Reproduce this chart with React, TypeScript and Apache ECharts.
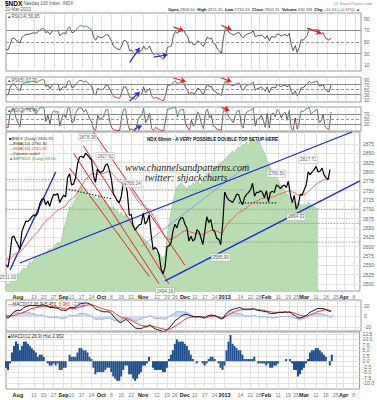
import React, { useEffect, useRef } from "react";
import * as echarts from "echarts";

// ---- x axis (trading-day index, 0 = 24-Jul-2012) ----
const xTicks: [number, string, boolean][] = [
  [6, "Aug", true], [14, "13", false], [19, "20", false], [24, "27", false],
  [29, "Sep", true], [33, "10", false], [38, "17", false], [43, "24", false],
  [48, "Oct", true], [53, "8", false], [58, "15", false], [63, "22", false],
  [69, "Nov", true], [76, "12", false], [81, "19", false], [85, "26", false],
  [90, "Dec", true], [95, "10", false], [100, "17", false], [105, "24", false],
  [110, "2013", true], [118, "14", false], [123, "22", false], [127, "28", false],
  [131, "Feb", true], [137, "11", false], [142, "19", false], [146, "25", false],
  [150, "Mar", true], [156, "11", false], [161, "18", false], [166, "25", false],
  [170, "Apr", true], [175, "8", false],
];

// ---- price ----
const closes = [
  2551, 2545, 2578, 2625, 2628, 2615, 2605, 2592, 2640, 2655, 2668, 2667, 2673, 2680,
  2685, 2682, 2690, 2715, 2727, 2730, 2712, 2722, 2708, 2727, 2740, 2738, 2742, 2718, 2729,
  2738, 2733, 2785, 2795, 2765, 2768, 2785, 2822, 2840, 2842, 2838, 2850, 2845, 2838, 2832,
  2790, 2772, 2808, 2799, 2800, 2803, 2818, 2822, 2805, 2780, 2742, 2733, 2722, 2718, 2735,
  2768, 2770, 2746, 2684, 2686, 2655, 2644, 2652, 2658, 2660, 2690, 2660, 2668, 2685, 2632,
  2592, 2598, 2592, 2578, 2540, 2527, 2545, 2600, 2602, 2610, 2642, 2660, 2650, 2668, 2677,
  2677, 2660, 2650, 2615, 2628, 2615, 2620, 2645, 2640, 2625, 2605, 2640, 2680, 2665, 2672,
  2645, 2640, 2622, 2620, 2605, 2660, 2746, 2733, 2725, 2722, 2718, 2728, 2740, 2740, 2722,
  2712, 2732, 2740, 2745, 2752, 2770, 2735, 2745, 2745, 2750, 2745, 2731, 2750, 2720, 2745,
  2748, 2745, 2765, 2762, 2755, 2762, 2765, 2758, 2775, 2740, 2718, 2737, 2700, 2712, 2740,
  2738, 2752, 2765, 2800, 2793, 2800, 2806, 2815, 2800, 2802, 2810, 2792, 2784, 2780, 2806,
];
const ema = [
  2568, 2566, 2567, 2573, 2578, 2582, 2584, 2585, 2590, 2597, 2604, 2610, 2616, 2623, 2629,
  2634, 2640, 2647, 2655, 2663, 2668, 2673, 2677, 2682, 2688, 2693, 2698, 2700, 2703, 2706,
  2709, 2717, 2724, 2728, 2732, 2738, 2746, 2755, 2764, 2771, 2779, 2786, 2791, 2795, 2795,
  2793, 2794, 2795, 2795, 2796, 2798, 2801, 2801, 2799, 2793, 2787, 2781, 2775, 2771, 2770,
  2770, 2768, 2759, 2752, 2742, 2733, 2725, 2718, 2712, 2710, 2705, 2701, 2700, 2693, 2683,
  2674, 2666, 2657, 2646, 2634, 2625, 2622, 2620, 2619, 2621, 2625, 2628, 2632, 2636, 2640,
  2642, 2643, 2640, 2639, 2637, 2635, 2636, 2636, 2635, 2632, 2633, 2638, 2640, 2643, 2644,
  2643, 2641, 2639, 2636, 2638, 2649, 2657, 2664, 2670, 2675, 2680, 2686, 2691, 2694, 2696,
  2700, 2704, 2708, 2712, 2718, 2720, 2722, 2724, 2727, 2729, 2729, 2731, 2730, 2732, 2733,
  2734, 2737, 2740, 2741, 2743, 2745, 2747, 2749, 2749, 2746, 2745, 2740, 2738, 2738, 2738,
  2739, 2742, 2748, 2752, 2757, 2762, 2767, 2771, 2774, 2777, 2779, 2779, 2779, 2782,
];
// green area overlay (own hidden scale)
const bpndx = [
  33, 33, 34, 35, 35, 37, 38, 38, 40, 41, 40, 42, 44, 43, 45, 46, 45, 47, 46, 48, 47,
  49, 50, 49, 51, 52, 53, 52, 54, 59, 62, 66, 70, 69, 72, 73, 76, 78, 79, 78, 77, 74,
  75, 73, 75, 74, 73, 75, 74, 72, 73, 71, 70, 69, 70, 68, 68, 66, 67, 65, 66, 64, 63,
  63, 61, 60, 58, 57, 56, 55, 54, 53, 52, 51, 50, 49, 48, 48, 46, 45, 47, 55, 62, 67,
  72, 76, 79, 80, 81, 80, 79, 78, 80, 79, 81, 80, 82, 81, 80, 82, 83, 85, 86, 85, 87,
  88, 89, 90, 90, 91, 92, 93, 94, 95, 96, 95, 97, 98, 97, 99, 99, 100, 99, 101, 102,
  101, 100, 102, 99, 97, 95, 92, 90, 88, 86, 85, 84, 82, 80, 79, 78, 76, 75, 74, 73,
  72, 71, 72, 71, 70, 71, 70, 72, 71, 70, 70, 69, 69,
];

// ---- oscillators ----
const rsi14 = [
  38, 36, 45, 56, 57, 53, 51, 48, 58, 61, 63, 63, 64, 65, 66, 65, 67, 71, 73, 73, 66,
  68, 63, 68, 70, 69, 70, 61, 64, 66, 64, 74, 76, 66, 67, 70, 75, 78, 78, 76, 78, 76,
  73, 71, 58, 53, 60, 58, 58, 59, 62, 63, 58, 51, 42, 40, 38, 37, 43, 52, 53, 47, 35,
  36, 31, 29, 32, 34, 35, 43, 37, 39, 43, 34, 28, 30, 29, 27, 22, 20, 27, 41, 42, 44,
  62, 68, 65, 70, 72, 71, 64, 60, 48, 50, 45, 46, 52, 50, 46, 42, 51, 59, 55, 57, 48,
  46, 38, 35, 30, 56, 76, 70, 66, 64, 62, 64, 66, 66, 60, 57, 62, 64, 65, 66, 69, 59,
  61, 61, 62, 60, 56, 61, 52, 59, 59, 58, 64, 63, 60, 62, 63, 60, 65, 45, 35, 44, 32,
  40, 54, 53, 57, 61, 73, 70, 71, 71, 72, 64, 64, 66, 58, 55, 53, 57,
];
const rsi5 = [
  30, 28, 55, 72, 73, 62, 54, 45, 70, 75, 79, 78, 80, 82, 83, 76, 80, 87, 89, 89, 62,
  68, 53, 66, 72, 70, 72, 45, 56, 62, 57, 83, 85, 58, 60, 70, 82, 86, 86, 80, 84, 77,
  70, 64, 35, 27, 55, 49, 50, 53, 66, 68, 52, 37, 22, 19, 16, 15, 38, 60, 61, 42, 18,
  20, 13, 11, 22, 29, 31, 60, 38, 44, 55, 25, 14, 18, 16, 12, 7, 6, 27, 66, 67, 70,
  80, 84, 72, 78, 80, 80, 58, 47, 28, 40, 32, 36, 56, 52, 40, 30, 55, 71, 60, 63, 45,
  43, 33, 32, 26, 63, 85, 76, 70, 68, 65, 71, 76, 76, 55, 46, 62, 67, 70, 73, 80, 46,
  55, 55, 60, 54, 43, 60, 37, 57, 59, 56, 70, 67, 61, 66, 68, 60, 72, 42, 30, 45, 25,
  36, 57, 56, 65, 72, 84, 76, 79, 81, 84, 64, 65, 70, 50, 43, 40, 68,
];
const rsi2 = [
  20, 12, 70, 90, 91, 55, 35, 18, 80, 88, 93, 90, 92, 94, 95, 70, 85, 96, 97, 97, 40,
  65, 30, 72, 85, 78, 82, 20, 55, 72, 55, 95, 96, 35, 40, 75, 92, 96, 96, 78, 90, 70,
  50, 38, 6, 4, 65, 48, 52, 60, 88, 90, 40, 15, 4, 3, 2, 2, 60, 90, 91, 30, 4, 8, 3,
  2, 40, 60, 65, 95, 35, 50, 75, 10, 3, 15, 10, 5, 2, 1, 45, 92, 92, 94, 98, 99, 60,
  85, 90, 90, 30, 15, 4, 45, 20, 35, 80, 65, 30, 10, 75, 92, 55, 65, 20, 15, 6, 5, 3,
  85, 98, 70, 55, 45, 35, 65, 85, 85, 25, 12, 70, 80, 85, 88, 95, 20, 50, 50, 65, 45,
  15, 75, 12, 70, 75, 60, 90, 80, 55, 72, 78, 45, 85, 12, 4, 55, 8, 35, 85, 80, 90,
  94, 98, 70, 80, 85, 90, 35, 42, 70, 18, 10, 7, 80,
];
const macd = [
  0, -2, 0, 5, 9, 11, 12, 11, 14, 17, 19, 20, 21, 21, 21, 21, 20, 21, 22, 22, 20,
  19, 17, 17, 17, 16, 16, 13, 12, 12, 11, 14, 17, 17, 17, 18, 21, 24, 25, 25, 26, 25,
  24, 22, 18, 14, 13, 11, 10, 9, 9, 9, 8, 5, 0, -4, -8, -11, -11, -8, -6, -7, -12,
  -15, -19, -22, -23, -23, -23, -20, -20, -19, -16, -18, -22, -24, -25, -26, -28, -29, -28, -24,
  -21, -17, -12, -7, -5, -2, 1, 3, 4, 4, 2, 1, 0, -1, 0, 0, -1, -3, -2, 1, 2,
  3, 2, 1, -1, -3, -5, -3, 4, 8, 11, 13, 14, 15, 16, 17, 16, 14, 14, 14, 14, 14,
  15, 13, 12, 11, 11, 10, 9, 9, 6, 6, 6, 6, 7, 8, 8, 8, 9, 8, 9, 7, 3, 2,
  -2, -3, -2, -1, 1, 3, 7, 9, 11, 13, 15, 15, 15, 15, 14, 12, 10, 10,
];
const signal = [
  3, 2, 1, 1, 2, 3, 5, 6, 7, 8, 10, 12, 14, 15, 16, 17, 18, 18, 19, 20, 20,
  20, 19, 19, 18, 18, 17, 17, 16, 15, 14, 14, 15, 15, 15, 16, 17, 18, 19, 20, 21, 22,
  22, 22, 21, 20, 18, 17, 15, 14, 13, 12, 11, 10, 8, 5, 3, 0, -2, -3, -4, -4, -6,
  -8, -10, -12, -14, -16, -17, -18, -18, -18, -18, -18, -19, -20, -21, -22, -23, -24, -25, -25,
  -24, -22, -20, -18, -15, -13, -10, -7, -5, -3, -2, -1, -1, -1, -1, -1, -1, -1, -1, -1, 0,
  0, 1, 1, 0, -1, -2, -2, 0, 2, 4, 6, 8, 10, 11, 12, 13, 13, 13, 13, 13, 14,
  14, 14, 13, 13, 12, 12, 11, 10, 9, 9, 8, 8, 8, 8, 8, 8, 8, 8, 8, 8, 7, 6,
  4, 3, 2, 1, 1, 1, 2, 4, 5, 7, 9, 10, 11, 12, 13, 13, 12, 11,
];
const hist = [
  -3, -4, -1, 4, 7, 9, 8, 5, 7, 9, 9, 8, 7, 6, 5, 4, 2, 3, 3, 2, 0,
  -1, -2, -2, -1, -2, -1, -4, -4, -3, -3, 0, 3, 2, 2, 2, 4, 6, 6, 5, 5, 4,
  2, 1, -3, -6, -5, -5, -5, -5, -4, -3, -3, -5, -7, -8, -9, -9, -7, -4, -2, -2, -6,
  -6, -8, -9, -8, -6, -5, -2, -2, -1, 2, 0, -3, -4, -4, -4, -4, -5, -5, -3, 1, 3,
  5, 8, 10, 9, 9, 9, 8, 7, 5, 3, 1, 0, -1, 0, 0, -1, -2, -1, 1, 2, 2,
  1, 0, -1, -3, -4, -2, 5, 9, 12, 8, 7, 6, 5, 5, 3, 1, 1, 1, 1, 1, 2,
  0, -1, -1, -1, -1, -2, -1, -3, -3, -2, -2, -1, 0, 0, 0, 1, 0, 1, -1, -4, -4,
  -7, -6, -4, -3, -1, 1, 4, 5, 5, 6, 6, 5, 4, 3, 2, 0, -2, 3,
];

// ---- annotations (data coordinates: [index, value]) ----
const blueLines: [number, number][][] = [
  [[2, 2537], [25, 2800]],
  [[7, 2556], [174, 2907]],
  [[80, 2508], [178, 2776]],
];
const lightBlueLines: [number, number][][] = [[[68, 2600], [122, 2820]]];
const redLines: [number, number][][] = [
  [[44, 2907], [90, 2550]],
  [[39, 2870], [82, 2500]],
  [[34, 2850], [77, 2500]],
  [[32, 2810], [72, 2520]],
];
const grayDotted: [number, number][][] = [
  [[0, 2780], [60, 2780]],
  [[0, 2700], [178, 2700]],
  [[0, 2752], [120, 2752]],
  [[100, 2662], [178, 2662]],
  [[100, 2612], [178, 2612]],
];
const blackDotted: [number, number][][] = [
  [[30, 2755], [53, 2728]],
  [[117, 2717], [136, 2717]],
];
// divergence arrows on the RSI panels: [panel, [i1, v1], [i2, v2], colour]
const rsiArrows: [number, [number, number], [number, number], string][] = [
  [0, [84, 76], [89, 69], "red"],
  [0, [108, 79], [113, 71], "red"],
  [0, [151, 74], [158, 65], "red"],
  [0, [62, 15], [67, 40], "blue"],
  [0, [74, 24], [81, 28], "blue"],
  [1, [84, 96], [90, 82], "red"],
  [1, [108, 96], [113, 82], "red"],
  [1, [62, 4], [67, 40], "blue"],
  [2, [108, 98], [112, 86], "red"],
  [2, [64, 6], [68, 22], "blue"],
];
// [index, price, text, position]
const priceTags: [number, number, string, string][] = [
  [41, 2878.38, "2878.38", "top"],
  [50, 2827.62, "2827.62", "top"],
  [58, 2768.24, "2768.24", "right"],
  [1, 2531.0, "2531.00", "bottom"],
  [80, 2494.16, "2494.16", "bottom"],
  [108, 2585.9, "2585.90", "bottom"],
  [136, 2780.5, "2780.50", "top"],
  [152, 2817.71, "2817.71", "top"],
  [146, 2694.33, "2694.33", "bottom"],
];

const GRID_LEFT = 6;
const GRID_RIGHT = 16;
const FONT = "Liberation Sans, Arial, sans-serif";

function App() {
  const ref = useRef<HTMLDivElement>(null);
  useEffect(() => {
    if (!ref.current) return;
    const chart = echarts.init(ref.current, undefined, { renderer: "svg" });
    const tickIdx = xTicks.map((t) => t[0]);
    const tickMap: Record<number, [string, boolean]> = {};
    xTicks.forEach((t) => (tickMap[t[0]] = [t[1], t[2]]));

    const grids = [
      { top: 13, height: 58 },
      { top: 77, height: 25 },
      { top: 107, height: 24 },
      { top: 132, height: 159 },
      { top: 300, height: 31 },
      { top: 332, height: 57 },
    ].map((g) => ({
      left: GRID_LEFT, right: GRID_RIGHT, top: g.top, height: g.height,
      show: true, borderColor: "#9a9a9a", borderWidth: 1, backgroundColor: "#fff",
    }));

    const xAxes = grids.map((_, i) => ({
      type: "value", gridIndex: i, min: 0, max: 178,
      axisLine: { show: false },
      axisTick: { show: false, customValues: tickIdx },
      splitLine: { show: true, lineStyle: { color: "#e2e2e2", width: 1 } },
      axisLabel: {
        show: i === 3 || i === 5, customValues: tickIdx, fontSize: 5, margin: 3,
        fontFamily: FONT,
        formatter: (v: number) => {
          const t = tickMap[Math.round(v)];
          if (!t) return "";
          return t[1] ? "{b|" + t[0] + "}" : t[0];
        },
        color: "#777",
        rich: { b: { fontWeight: "bold", color: "#222", fontSize: 5.5, fontFamily: FONT } },
      },
    }));

    const yLab = (vals: number[], fmt?: (v: number) => string) => ({
      show: true, customValues: vals, fontSize: 5, color: "#666", margin: 3, fontFamily: FONT,
      formatter: fmt || ((v: number) => String(v)),
    });
    const ySplit = { show: true, lineStyle: { color: "#e2e2e2", width: 1 } };
    const rsiVals = [10, 30, 50, 70, 90];
    const rsiAxis = (g: number) => ({
      type: "value", gridIndex: g, position: "right", min: 0, max: 100,
      axisLabel: yLab(rsiVals), axisTick: { show: false, customValues: rsiVals },
      splitLine: { show: false }, axisLine: { show: false },
    });
    const priceVals = [2500, 2525, 2550, 2575, 2600, 2625, 2650, 2675, 2700, 2725, 2750, 2775, 2800, 2825, 2850, 2875];
    const macdVals = [-20, 0, 20];
    const histVals = [-10, -7.5, -5, -2.5, 0, 2.5, 5, 7.5, 10, 12.5];
    const yAxes: any[] = [
      rsiAxis(0), rsiAxis(1), rsiAxis(2),
      { type: "value", gridIndex: 3, position: "right", min: 2481, max: 2907, axisLabel: yLab(priceVals), axisTick: { show: false, customValues: priceVals }, splitLine: ySplit, axisLine: { show: false } },
      { type: "value", gridIndex: 3, position: "left", min: 30, max: 105, show: false, splitLine: { show: false } },
      { type: "value", gridIndex: 4, position: "right", min: -27.6, max: 31.4, axisLabel: yLab(macdVals), axisTick: { show: false, customValues: macdVals }, splitLine: ySplit, axisLine: { show: false } },
      { type: "value", gridIndex: 5, position: "right", min: -12.75, max: 13.4, axisLabel: yLab(histVals, (x) => x.toFixed(1)), axisTick: { show: false, customValues: histVals }, splitLine: ySplit, axisLine: { show: false } },
    ];

    const idx = (arr: number[]) => arr.map((v, i) => [i, v]);
    const arrowColor: Record<string, string> = { red: "#ee1c1c", blue: "#1f2be8" };
    const rsiMark = (panel: number) => ({
      silent: true, symbol: ["none", "none"], label: { show: false },
      data: [
        { yAxis: 70, lineStyle: { color: "#8a8a8a", type: "solid", width: 1 } },
        { yAxis: 30, lineStyle: { color: "#8a8a8a", type: "solid", width: 1 } },
        { yAxis: 50, lineStyle: { color: "#9a9a9a", type: [3, 2], width: 1 } },
        ...rsiArrows.filter((a) => a[0] === panel).map((a) => [
          { coord: a[1], symbol: "none", lineStyle: { color: arrowColor[a[3]], width: 1.2, type: "solid" } },
          { coord: a[2], symbol: "arrow", symbolSize: 5 },
        ]),
      ],
    });
    const rsiSeries = (data: number[], i: number) => ({
      type: "line", xAxisIndex: i, yAxisIndex: i, data: idx(data), symbol: "none",
      lineStyle: { width: 0.8 }, markLine: rsiMark(i), z: 3,
    });

    const lineSeg = (pts: [number, number][], color: string, width: number, type: any = "solid") => ({
      type: "line", xAxisIndex: 3, yAxisIndex: 3, data: pts, symbol: "none", silent: true,
      lineStyle: { color, width, type }, z: 6,
    });

    const series: any[] = [
      rsiSeries(rsi14, 0),
      rsiSeries(rsi5, 1),
      rsiSeries(rsi2, 2),
      {
        type: "line", xAxisIndex: 3, yAxisIndex: 4, data: idx(bpndx), symbol: "none",
        lineStyle: { width: 0.6, color: "#8cc487" }, areaStyle: { color: "#b9dcb3", opacity: 1 }, z: 1,
      },
      ...grayDotted.map((p) => lineSeg(p, "#8a8a8a", 0.8, [1.5, 1.5])),
      ...blackDotted.map((p) => lineSeg(p, "#111", 1, [1.5, 1.5])),
      ...redLines.map((p) => lineSeg(p, "#ee2222", 1)),
      ...lightBlueLines.map((p) => lineSeg(p, "#7f8cff", 0.8)),
      ...blueLines.map((p) => lineSeg(p, "#1a24e6", 1.3)),
      {
        type: "line", xAxisIndex: 3, yAxisIndex: 3, data: idx(ema), symbol: "none",
        lineStyle: { width: 0.8, color: "#ff4040" }, z: 7,
      },
      {
        type: "line", xAxisIndex: 3, yAxisIndex: 3, data: idx(closes), symbol: "none",
        lineStyle: { width: 1.2, color: "#000" }, z: 8,
      },
      {
        type: "scatter", xAxisIndex: 3, yAxisIndex: 3, symbolSize: 0, z: 9,
        data: priceTags.map((t) => ({ value: [t[0], t[1]], name: t[2], label: { position: t[3] } })),
        label: {
          show: true, distance: 2, formatter: (p: any) => p.name,
          fontSize: 4.5, color: "#333", fontFamily: FONT, backgroundColor: "#fff",
          borderColor: "#aaa", borderWidth: 0.5, padding: [1, 1],
        },
      },
      {
        type: "line", xAxisIndex: 4, yAxisIndex: 5, data: idx(hist), symbol: "none",
        lineStyle: { width: 0.6, color: "#6f8fd0" }, areaStyle: { color: "#b9c9ec", opacity: 0.7 }, z: 2,
      },
      { type: "line", xAxisIndex: 4, yAxisIndex: 5, data: idx(signal), symbol: "none", lineStyle: { width: 1, color: "#ff3030" }, z: 3 },
      { type: "line", xAxisIndex: 4, yAxisIndex: 5, data: idx(macd), symbol: "none", lineStyle: { width: 0.9, color: "#000" }, z: 4 },
      {
        type: "bar", xAxisIndex: 5, yAxisIndex: 6, data: idx(hist), barWidth: 2,
        itemStyle: { color: "#1f4f8f" }, z: 2,
      },
    ];

    const txt = (x: number, y: number, text: string, style: any = {}) => ({
      type: "text", x, y, silent: true, z: 100,
      style: { text, fontSize: 5, fontFamily: FONT, fill: "#222", ...style },
    });
    const SERIF = "Liberation Serif, Times New Roman, serif";

    chart.setOption({
      animation: false,
      backgroundColor: "#fff",
      grid: grids,
      xAxis: xAxes,
      yAxis: yAxes,
      visualMap: [0, 1, 2].map((si) => ({
        show: false, type: "piecewise", seriesIndex: si, dimension: 1,
        pieces: [
          { gt: 70, color: "#2e7d32" },
          { lt: 30, color: "#b71c1c" },
          { gte: 30, lte: 70, color: "#333" },
        ],
      })),
      series,
      graphic: [
        txt(5, 0, "{b|$NDX} Nasdaq 100 Index  INDX", { fontSize: 4.5, fill: "#555", rich: { b: { fontWeight: "bold", fontSize: 6.5, fill: "#000", fontFamily: FONT } } }),
        txt(5, 7, "20-Mar-2013", { fill: "#555", fontSize: 4.5 }),
        txt(334, 1, "@ StockCharts.com", { fill: "#888", fontSize: 4.3 }),
        txt(168, 7, "{l|Open} 2808.60  {l|High} 2811.40  {l|Low} 2794.33  {l|Close} 2805.91  {l|Volume} 690.3M  {l|Chg} +10.54 (+0.37%) \u25B2", { fontSize: 4.2, fill: "#555", rich: { l: { fontWeight: "bold", fill: "#111", fontSize: 4.2, fontFamily: FONT } } }),
        txt(7, 14, "\u25B2RSI(14) 56.95", { fontSize: 4.5, fill: "#555" }),
        txt(7, 78, "\u25B2RSI(5) 67.70", { fontSize: 4.5, fill: "#555" }),
        txt(7, 108, "\u25B2RSI(2) 79.44", { fontSize: 4.5, fill: "#555" }),
        txt(9, 136, "\u25A0$NDX (Daily) 2805.91", { fontSize: 4.3, fill: "#333" }),
        txt(9, 141, "\u2014EMA(10) 2790.30", { fontSize: 4.3, fill: "#333" }),
        txt(9, 146, "\u2014EMA(34) 2765.61", { fontSize: 4.3, fill: "#e33" }),
        txt(9, 151, "\u2014Volume undef", { fontSize: 4.3, fill: "#333" }),
        txt(9, 156, "\u25B2$BPNDX (Daily) 69.00", { fontSize: 4.3, fill: "#393" }),
        txt(147, 137, "NDX 60min - A VERY POSSIBLE DOUBLE TOP SETUP HERE", { fontSize: 4.6, fontWeight: "bold", fill: "#111" }),
        txt(125, 162, "www.channelsandpatterns.com", { fontSize: 10, fontStyle: "italic", fontFamily: SERIF, fill: "#222" }),
        txt(145, 172, "twitter: shjackcharts", { fontSize: 10, fontStyle: "italic", fontFamily: SERIF, fill: "#222" }),
        txt(8, 302, "\u2014MACD(12,26,9) 5.451, {r|6.980}, {bl|-2.952}", { fontSize: 4.5, fill: "#333", rich: { r: { fill: "#e33", fontSize: 4.5 }, bl: { fill: "#55f", fontSize: 4.5 } } }),
        txt(8, 334, "\u25A0MACD(12,26,9) Hist 2.952", { fontSize: 4.5, fill: "#333" }),
      ],
    });
    return () => chart.dispose();
  }, []);
  return (
    <div
      ref={ref}
      style={{ position: "fixed", left: 0, top: 0, width: 377, height: 400, background: "#fff" }}
    />
  );
}

export default App;
